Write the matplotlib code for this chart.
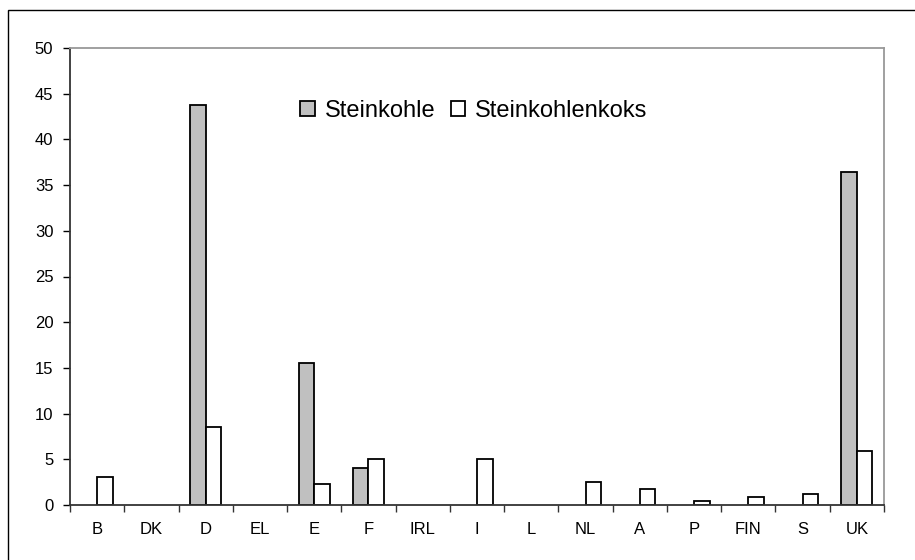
import matplotlib
matplotlib.use("Agg")
import matplotlib.pyplot as plt
from matplotlib.patches import Rectangle
import numpy as np

plt.rcParams['font.family'] = ['Liberation Sans', 'DejaVu Sans']

categories = ["B", "DK", "D", "EL", "E", "F", "IRL", "I", "L", "NL", "A", "P", "FIN", "S", "UK"]
steinkohle = [0, 0, 43.8, 0, 15.5, 4.1, 0, 0, 0, 0, 0, 0, 0, 0, 36.4]
steinkohlenkoks = [3.1, 0, 8.5, 0, 2.3, 5.0, 0, 5.0, 0, 2.5, 1.7, 0.4, 0.9, 1.2, 5.9]
yticks = [0, 5, 10, 15, 20, 25, 30, 35, 40, 45, 50]

W, H = 915, 560
fig = plt.figure(figsize=(W / 100, H / 100), dpi=100)

# outer chart border
fig.patches.append(Rectangle((8 / W, -0.1), 1.2, 1 - 10 / H + 0.1, transform=fig.transFigure,
                             fill=False, edgecolor='black', linewidth=1.0))

ax = fig.add_axes([70 / W, (H - 505) / H, (884 - 70) / W, (505 - 48) / H])

x = np.arange(len(categories))
w = 0.286
bars_ohle = [v if v > 0 else np.nan for v in steinkohle]
bars_koks = [v if v > 0 else np.nan for v in steinkohlenkoks]
ax.bar(x - w / 2, bars_ohle, width=w, color='#C0C0C0', edgecolor='black', linewidth=1.3,
       label='Steinkohle')
ax.bar(x + w / 2, bars_koks, width=w, color='white', edgecolor='black', linewidth=1.3,
       label='Steinkohlenkoks')

ax.set_xlim(-0.5, len(categories) - 0.5)
ax.set_ylim(0, 50)
ax.set_yticks(yticks)
ax.set_yticklabels([str(t) for t in yticks])
ax.set_xticks(x)
ax.set_xticklabels(categories)
ax.set_xticks(np.arange(len(categories) + 1) - 0.5, minor=True)

ax.tick_params(axis='y', direction='out', length=5, width=1, pad=7, labelsize=12,
               colors='black')
ax.tick_params(axis='x', which='major', length=0, pad=12, labelsize=12)
ax.tick_params(axis='x', which='minor', direction='out', length=5, width=1, colors='#333333')

for s in ['left', 'bottom']:
    ax.spines[s].set_color('#333333')
    ax.spines[s].set_linewidth(1.3)
for s in ['top', 'right']:
    ax.spines[s].set_color('#999999')
    ax.spines[s].set_linewidth(1.3)

leg = ax.legend(loc='center', bbox_to_anchor=((474 - 70) / (884 - 70), (505 - 111) / (505 - 48)),
                ncol=2, frameon=False, fontsize=17, handlelength=0.6, handleheight=0.6,
                handletextpad=0.42, columnspacing=0.68, borderpad=0)

fig.savefig("out.png", dpi=100)
